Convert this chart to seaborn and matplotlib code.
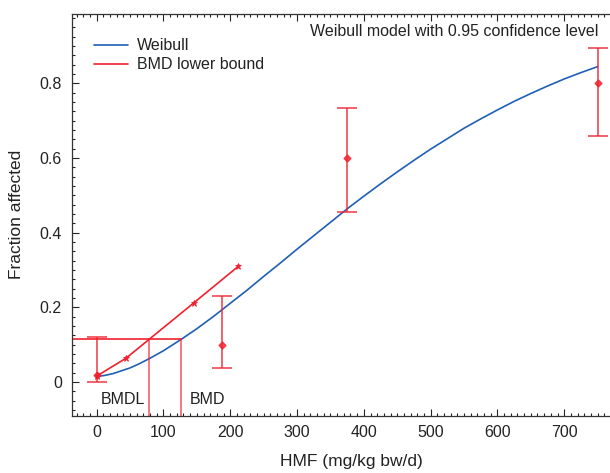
import numpy as np
import pandas as pd
import matplotlib
matplotlib.use("Agg")
import matplotlib.pyplot as plt
from matplotlib.ticker import MultipleLocator
import seaborn as sns

# Observed data (dose, fraction affected, CI)
dose = [0, 187.5, 375, 750]
frac = [0.02, 0.10, 0.60, 0.80]
ci_low = [0.0, 0.037, 0.455, 0.658]
ci_high = [0.12, 0.23, 0.733, 0.895]

# Weibull fitted curve
curve_dose = [0, 12.5, 25, 50, 62.5, 80, 100, 127, 150, 175, 200, 225, 250, 275,
              300, 325, 350, 375, 400, 425, 450, 475, 500, 525, 550, 575, 600,
              625, 650, 675, 700, 725, 750]
curve_frac = [0.015, 0.018, 0.023, 0.038, 0.048, 0.064, 0.084, 0.115, 0.143,
              0.176, 0.211, 0.246, 0.283, 0.319, 0.356, 0.392, 0.428, 0.464,
              0.498, 0.531, 0.563, 0.594, 0.624, 0.652, 0.680, 0.705, 0.729,
              0.752, 0.773, 0.793, 0.812, 0.829, 0.845]

# BMD lower bound line
lb_dose = [0, 44, 146, 212]
lb_frac = [0.016, 0.064, 0.213, 0.31]

bmr = 0.115
bmdl = 79
bmd = 127

sns.set_theme(style="ticks")
plt.rcParams['font.family'] = ['Liberation Sans', 'DejaVu Sans']

fig = plt.figure(figsize=(6.10, 4.73), dpi=100)
ax = fig.add_axes([71.6 / 610, 1 - 415.7 / 473, (631 - 71.6) / 610, (415.7 - 14) / 473])

blue = '#1f5fb4'
red = '#f0202e'
fs = 11.5

curve_df = pd.DataFrame({'dose': curve_dose, 'frac': curve_frac})
lb_df = pd.DataFrame({'dose': lb_dose, 'frac': lb_frac})

sns.lineplot(data=curve_df, x='dose', y='frac', ax=ax, color=blue, lw=1.2,
             label='Weibull', sort=True)
sns.lineplot(data=lb_df, x='dose', y='frac', ax=ax, color=red, lw=1.2,
             marker='*', markersize=5, markeredgewidth=0.6,
             markeredgecolor=red, markerfacecolor=red,
             label='BMD lower bound')

yerr = [np.array(frac) - np.array(ci_low), np.array(ci_high) - np.array(frac)]
ax.errorbar(dose, frac, yerr=yerr, fmt='none', ecolor=red, elinewidth=1.4,
            capsize=7, capthick=1.4, alpha=0.7, zorder=3)
ax.plot(dose, frac, linestyle='none', marker='D', markersize=3.5, color=red,
        alpha=0.8, zorder=4)

xmin, xmax = -37.5, 800
ymin, ymax = -0.09, 0.986
ax.set_xlim(xmin, xmax)
ax.set_ylim(ymin, ymax)

ax.plot([xmin, bmd], [bmr, bmr], color=red, lw=1.2, zorder=2)
ax.plot([bmdl, bmdl], [ymin, bmr], color=red, lw=1.2, alpha=0.7, zorder=2)
ax.plot([bmd, bmd], [ymin, bmr], color=red, lw=1.2, alpha=0.7, zorder=2)

ax.text(6.8, -0.047, 'BMDL', fontsize=fs, ha='left', va='center', color='#222222')
ax.text(139, -0.047, 'BMD', fontsize=fs, ha='left', va='center', color='#222222')
ax.text(751, 0.938, 'Weibull model with 0.95 confidence level', fontsize=fs,
        ha='right', va='center', color='#222222')

ax.set_xticks([0, 100, 200, 300, 400, 500, 600, 700])
ax.set_yticks([0, 0.2, 0.4, 0.6, 0.8])
ax.set_yticklabels(['0', '0.2', '0.4', '0.6', '0.8'])
ax.xaxis.set_minor_locator(MultipleLocator(10))
ax.yaxis.set_minor_locator(MultipleLocator(0.025))
ax.tick_params(which='both', direction='in', top=True, right=False,
               labelsize=fs, colors='#222222', width=0.8)
ax.tick_params(which='major', length=5, pad=7)
ax.tick_params(which='minor', length=2.5)
for s in ax.spines.values():
    s.set_color('#333333')
    s.set_linewidth(0.9)

ax.set_xlabel('HMF (mg/kg bw/d)', fontsize=12.5, labelpad=10, color='#222222')
ax.set_ylabel('Fraction affected', fontsize=12.5, labelpad=11, color='#222222')

leg = ax.legend(loc='upper left', bbox_to_anchor=(0.015, 0.975), frameon=False,
                fontsize=fs, handlelength=2.1, handletextpad=0.55,
                labelspacing=0.25)
for t in leg.get_texts():
    t.set_color('#222222')
for h in leg.legend_handles:
    h.set_marker('')

fig.savefig('out.png', dpi=100)
